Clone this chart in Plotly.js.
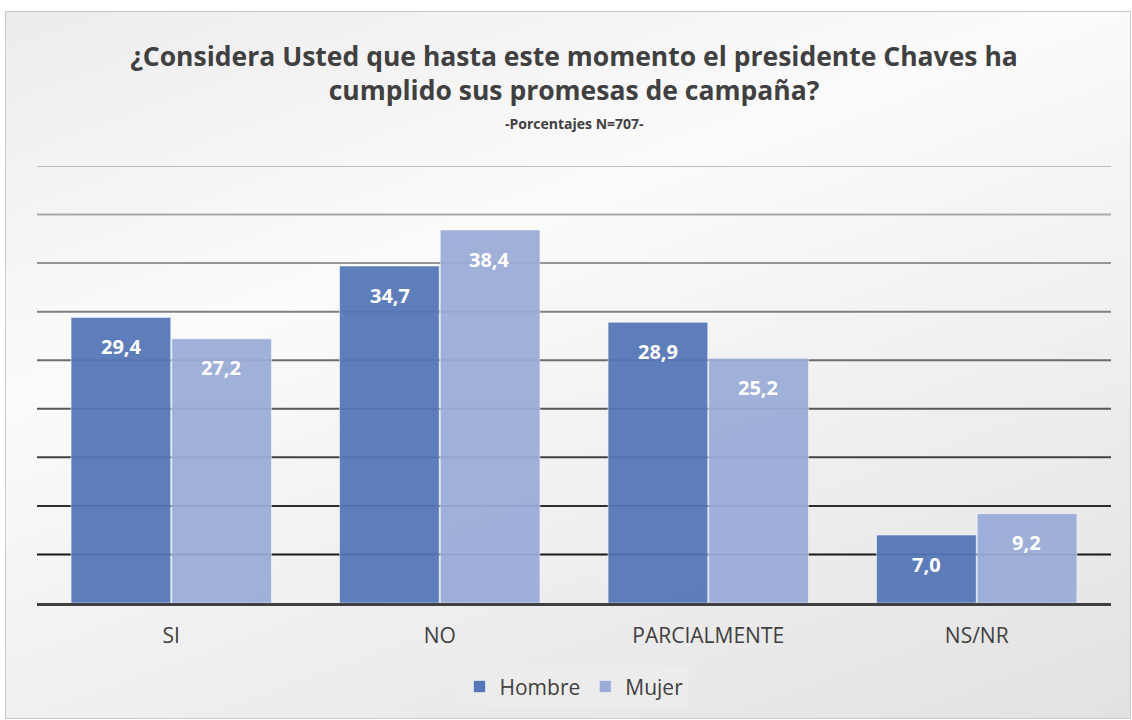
<!DOCTYPE html>
<html>
<head>
<meta charset="utf-8">
<script src="https://cdn.plot.ly/plotly-3.0.1.min.js"></script>
<style>
html,body{margin:0;padding:0;background:#ffffff;}
#bg{position:absolute;left:5px;top:11px;width:1124px;height:706px;border:1px solid #c9c9c9;
background:linear-gradient(160deg,#ececec 0%,#fbfbfb 35%,#f1f1f1 60%,#e2e2e2 100%);}
#chart{position:absolute;left:0;top:0;width:1132px;height:720px;}
</style>
</head>
<body>
<div id="bg"></div>
<div id="chart"></div>
<script>
const categories = ["SI", "NO", "PARCIALMENTE", "NS/NR"];
const hombre = [29.4, 34.7, 28.9, 7.0];
const mujer = [27.2, 38.4, 25.2, 9.2];
const seriesNames = ["Hombre", "Mujer"];
const gridValues = [5, 10, 15, 20, 25, 30, 35, 40, 45];

const colH = "#5577b8";
const colM = "#9aacd8";
const FONT = "'Open Sans', 'Noto Sans', sans-serif";

const traces = [
  {type: "bar", name: seriesNames[0], x: categories, y: hombre,
   marker: {color: colH, opacity: 0.94, line: {color: "rgba(255,255,255,0.5)", width: 1}},
   hoverinfo: "none"},
  {type: "bar", name: seriesNames[1], x: categories, y: mujer,
   marker: {color: colM, opacity: 0.94, line: {color: "rgba(255,255,255,0.5)", width: 1}},
   hoverinfo: "none"}
];

const fmt = v => v.toFixed(1).replace(".", ",");
const annotations = [];
categories.forEach((c, i) => {
  annotations.push({x: c, y: hombre[i], xref: "x", yref: "y", xshift: -50, yshift: -29,
    yanchor: "middle", showarrow: false, text: "<b>" + fmt(hombre[i]) + "</b>",
    font: {family: FONT, size: 20, color: "#ffffff"}});
  annotations.push({x: c, y: mujer[i], xref: "x", yref: "y", xshift: 50, yshift: -29,
    yanchor: "middle", showarrow: false, text: "<b>" + fmt(mujer[i]) + "</b>",
    font: {family: FONT, size: 20, color: "#ffffff"}});
});
annotations.push({xref: "paper", yref: "paper", x: 0.5, y: (605 - 123) / 439, yanchor: "middle",
  showarrow: false, text: "<b>-Porcentajes N=707-</b>",
  font: {family: FONT, size: 14, color: "#404040"}});

const shapes = gridValues.map((v, i) => {
  const t = i / (gridValues.length - 1);
  const g = Math.round(25 + t * (190 - 25));
  return {type: "line", xref: "paper", yref: "y", x0: 0, x1: 1, y0: v, y1: v,
    layer: "below", line: {color: `rgb(${g},${g},${g})`, width: 2}};
});

const layout = {
  width: 1132, height: 720,
  paper_bgcolor: "rgba(0,0,0,0)", plot_bgcolor: "rgba(0,0,0,0)",
  margin: {l: 37, r: 21, t: 166, b: 115},
  separators: ",.",
  title: {text: "<b>¿Considera Usted que hasta este momento el presidente Chaves ha<br>cumplido sus promesas de campaña?</b>",
    x: 0.5, xanchor: "center", xref: "paper", yref: "container", y: 1 - 66/720, yanchor: "middle",
    font: {family: FONT, size: 26.5, color: "#404040"}},
  barmode: "group", bargap: 0.25, bargroupgap: 0.01,
  xaxis: {type: "category", showgrid: false, showline: true, linecolor: "#404040", linewidth: 3,
    ticks: "", tickfont: {family: FONT, size: 21, color: "#404040"},
    ticklabelstandoff: 12},
  yaxis: {range: [0, 45], showgrid: false, zeroline: false, showticklabels: false, ticks: ""},
  showlegend: true,
  legend: {orientation: "h", x: 0.5, xanchor: "center", y: -0.192, yanchor: "middle",
    bgcolor: "rgba(236,236,236,0.9)", borderwidth: 0,
    font: {family: FONT, size: 21, color: "#404040"},
    itemwidth: 30, tracegroupgap: 0},
  shapes: shapes,
  annotations: annotations
};

Plotly.newPlot("chart", traces, layout, {displayModeBar: false, staticPlot: true});
</script>
</body>
</html>
